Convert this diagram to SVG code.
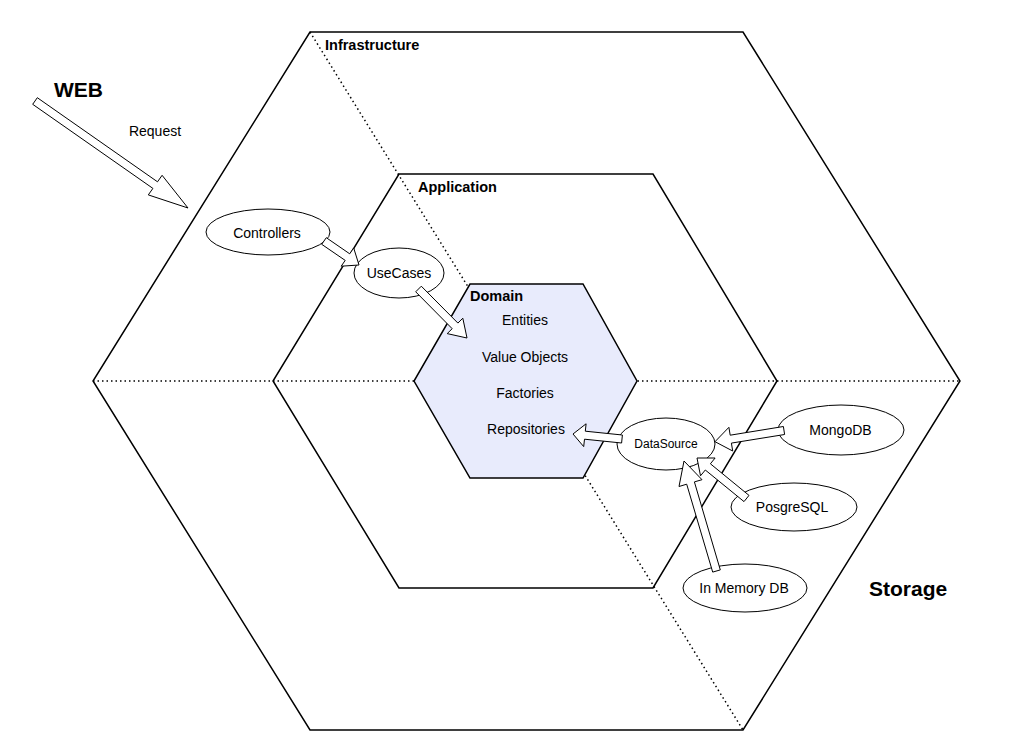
<svg xmlns="http://www.w3.org/2000/svg" width="1024" height="754" viewBox="0 0 1024 754">
<style>
.hex{fill:none;stroke:#000;stroke-width:1.5;stroke-linejoin:miter}
.dot{fill:none;stroke:#000;stroke-width:1.5;stroke-dasharray:1.5 3}
.node{fill:#fff;stroke:#000;stroke-width:1}
.arr{fill:#fff;stroke:#000;stroke-width:1;stroke-linejoin:miter}
text{font-family:"Liberation Sans",Arial,sans-serif;fill:#000}
.t{font-size:14px;text-anchor:middle}
.b{font-size:14.5px;font-weight:bold}
.big{font-size:21px;font-weight:bold}
</style>
<rect width="1024" height="754" fill="#fff"/>
<g id="layers">
<line class="dot" x1="93" y1="381" x2="960" y2="381"/>
<line class="dot" x1="310" y1="32" x2="743" y2="730"/>
<polygon id="infrastructure" class="hex" points="310,32 743,32 960,381 743,730 310,730 93,381"/>
<polygon id="application" class="hex" points="399,174 653,174 777,381 653,588 399,588 273,381"/>
<polygon id="domain-hex" points="470,284 583,284 637,381 583,478 470,478 414,381" fill="#e8ebfc" stroke="#000" stroke-width="1.5"/>
<text class="b" x="325" y="50">Infrastructure</text>
<text class="b" x="418" y="192">Application</text>
<text class="big" x="54" y="97">WEB</text>
<text class="big" x="869" y="596">Storage</text>
<text class="t" x="155" y="136">Request</text>
</g>
<g id="domain">
<text class="b" x="470" y="301">Domain</text>
<text class="t" x="525" y="325">Entities</text>
<text class="t" x="525" y="362">Value Objects</text>
<text class="t" x="525" y="398">Factories</text>
<text class="t" x="526" y="434">Repositories</text>
</g>
<g id="controllers"><ellipse class="node" cx="268" cy="232" rx="62" ry="23"/><text class="t" x="267" y="237.5">Controllers</text></g>
<g id="usecases"><ellipse class="node" cx="399" cy="273" rx="45" ry="25"/><text class="t" x="399" y="277.5">UseCases</text></g>
<g id="datasource"><ellipse class="node" cx="666" cy="444" rx="49" ry="26"/><text x="666" y="447.5" font-size="12" text-anchor="middle">DataSource</text></g>
<g id="mongodb"><ellipse class="node" cx="841" cy="430" rx="63" ry="25"/><text class="t" x="840.5" y="434.5">MongoDB</text></g>
<g id="posgresql"><ellipse class="node" cx="794" cy="507" rx="63" ry="24"/><text class="t" x="792" y="511.5">PosgreSQL</text></g>
<g id="inmemorydb"><ellipse class="node" cx="745" cy="588" rx="62" ry="24"/><text class="t" x="744" y="593">In Memory DB</text></g>
<g id="connectors">
<polygon class="arr" points="37.3,97.7 157.5,181.8 162.1,175.3 188,208 148.3,194.9 152.9,188.4 32.7,104.3"/>
<polygon class="arr" points="326.3,237.7 349.7,253.8 353.7,248.0 359,265 341.2,266.2 345.2,260.4 321.7,244.3"/>
<polygon class="arr" points="421.3,286.2 457.9,323.1 462.8,318.2 467,338 447.2,333.6 452.2,328.7 415.7,291.8"/>
<polygon class="arr" points="622.4,435.0 585.3,431.2 586.1,423.8 573,434 583.7,446.6 584.5,439.2 621.6,443.0"/>
<polygon class="arr" points="783.4,426.5 730.2,435.2 728.9,427.3 715,441.7 732.7,451.0 731.4,443.1 784.6,434.5"/>
<polygon class="arr" points="749.0,495.4 710.4,463.8 715.1,458.0 697,458 700.5,475.8 705.3,470.0 744.0,501.6"/>
<polygon class="arr" points="720.3,569.9 694.4,481.9 702.0,479.7 684,461 679.0,486.5 686.7,484.2 712.7,572.1"/>
</g>
</svg>
